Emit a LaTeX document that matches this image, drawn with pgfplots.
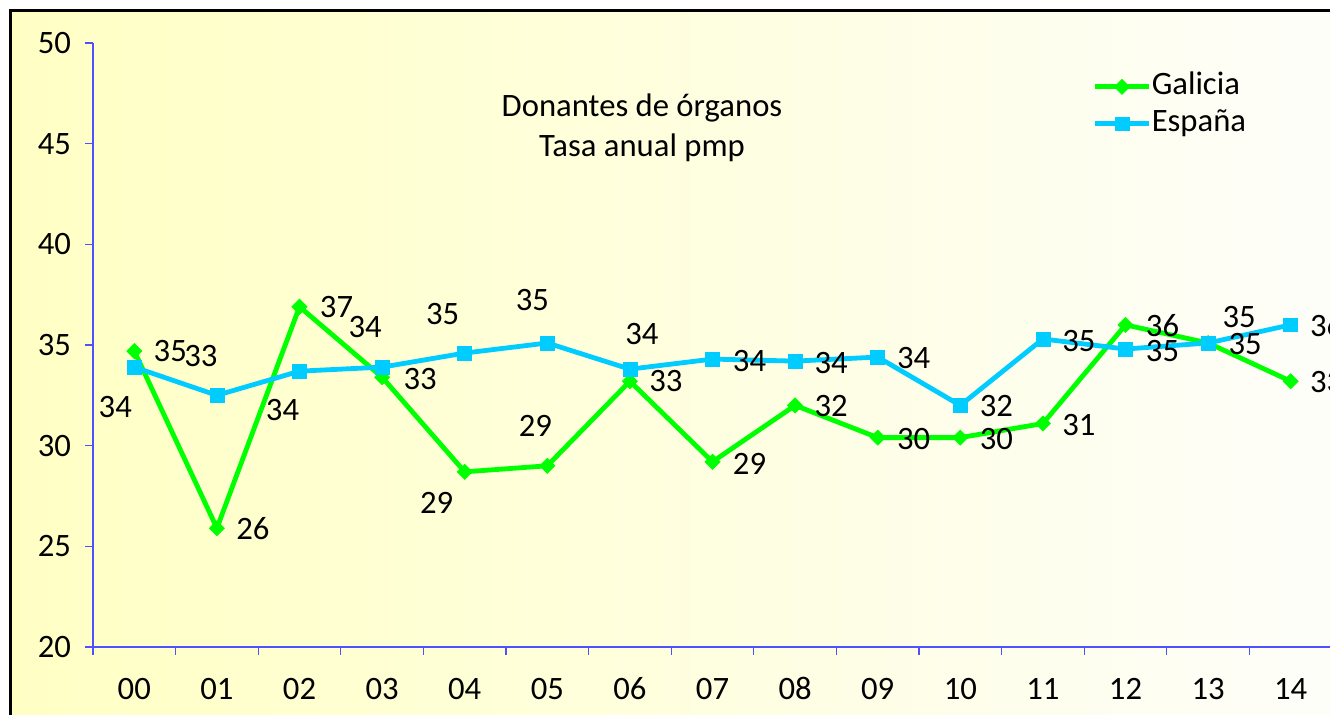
\documentclass[border=0pt]{standalone}
\usepackage{pgfplots}
\pgfplotsset{compat=1.18}
\usepackage{pgfplotstable}
\usepackage{fontspec}
\setmainfont{Carlito}
\definecolor{galgreen}{RGB}{0,255,0}
\definecolor{espblue}{RGB}{0,204,255}
\definecolor{axblue}{RGB}{80,80,255}
\definecolor{bgyellow}{RGB}{255,255,196}
\definecolor{bgwhite}{RGB}{254,254,250}
\newcommand{\chartfont}{\fontsize{24.5}{29}\selectfont}

\pgfplotstableread{
x y dx dy lab
0 34.7 36 0 35
1 25.9 36 0 26
2 36.9 37 0 37
3 33.4 38 -2 33
4 28.7 -28 -31 29
5 29.0 -12 40 29
6 33.2 36 0 33
7 29.2 37 -2 29
8 32.0 36 -1 32
9 30.4 36 -1 30
10 30.4 36 -1 30
11 31.1 36 -1 31
12 36.0 37 -1 36
13 35.1 37 -1 35
14 33.2 36 -1 33
}\galicia

\pgfplotstableread{
x y dx dy lab
0 33.9 -19 -40 34
1 32.5 -16 39 33
2 33.7 -17 -39 34
3 33.9 -17 40 34
4 34.6 -22 39 35
5 35.1 -15 43 35
6 33.8 12 35 34
7 34.3 37 -2 34
8 34.2 36 -2 34
9 34.4 36 -1 34
10 32.0 36 -1 32
11 35.3 36 -2 35
12 34.8 37 -2 35
13 35.1 31 26 35
14 36.0 36 -1 36
}\espana

\begin{document}
\begin{tikzpicture}[x=0.75pt,y=0.75pt]
\useasboundingbox (0,0) rectangle (1330,714);
\clip (0,0) rectangle (1330,714);
\fill[white] (0,0) rectangle (1330,714);
\shade[left color=bgyellow, right color=bgwhite] (10,-10) rectangle (1345,703);
\draw[black, line width=2.25pt] (10,-10) -- (10,703) -- (1345,703);
\node[align=center, font=\fontsize{24.5}{30}\selectfont] at (642,586) {Donantes de órganos\\Tasa anual pmp};
\begin{axis}[
  at={(69.75pt,50.25pt)}, anchor=south west,
  scale only axis, width=929.25pt, height=453pt,
  xmin=-0.5, xmax=14.5, ymin=20, ymax=50,
  clip=false,
  axis lines*=left,
  axis line style={draw=axblue, line width=0.9pt},
  every outer x axis line/.append style={draw=axblue},
  every outer y axis line/.append style={draw=axblue},
  every tick/.style={draw=axblue, line width=0.9pt},
  tick align=outside,
  major tick length=6pt, minor tick length=6pt,
  xtick={0,...,14},
  xticklabels={00,01,02,03,04,05,06,07,08,09,10,11,12,13,14},
  major x tick style={draw=none},
  minor xtick={-0.5,0.5,...,14.5},
  ytick={20,25,...,50},
  /pgf/number format/assume math mode=true,
  ticklabel style={font=\chartfont, text=black},
  xticklabel style={anchor=center, text height=11pt, text depth=0pt, yshift=-27.5pt},
  yticklabel style={anchor=east, xshift=-7pt},
  legend style={at={(rel axis cs:0.8063,0.951)}, anchor=north west, draw=none, fill=none,
    font=\chartfont, inner sep=0pt,
    nodes={inner sep=0pt, text height=16pt, text depth=5pt},
    row sep=6.75pt,
    /tikz/every even column/.append style={column sep=3pt}},
  legend cell align=left,
  legend image code/.code={\draw[mark repeat=2,mark phase=2,#1] plot coordinates {(0pt,0pt) (20.5pt,0pt) (41pt,0pt)};},
  nodes near coords,
  point meta=explicit symbolic,
  visualization depends on={\thisrow{dx} \as \dx},
  visualization depends on={\thisrow{dy} \as \dy},
  every node near coord/.append style={anchor=center, font=\chartfont, text=black, xshift=\dx*0.75pt, yshift=\dy*0.75pt},
]
\addplot[galgreen, line width=3.6pt, mark=square*, mark size=4pt, mark options={rotate=45, line width=0.5pt, fill=galgreen, draw=galgreen}]
  table[x=x, y=y, meta=lab] {\galicia};
\addlegendentry{Galicia}
\addplot[espblue, line width=3.6pt, mark=square*, mark size=5.2pt, mark options={line width=0.5pt, fill=espblue, draw=espblue}]
  table[x=x, y=y, meta=lab] {\espana};
\addlegendentry{España}
\end{axis}
\end{tikzpicture}
\end{document}
